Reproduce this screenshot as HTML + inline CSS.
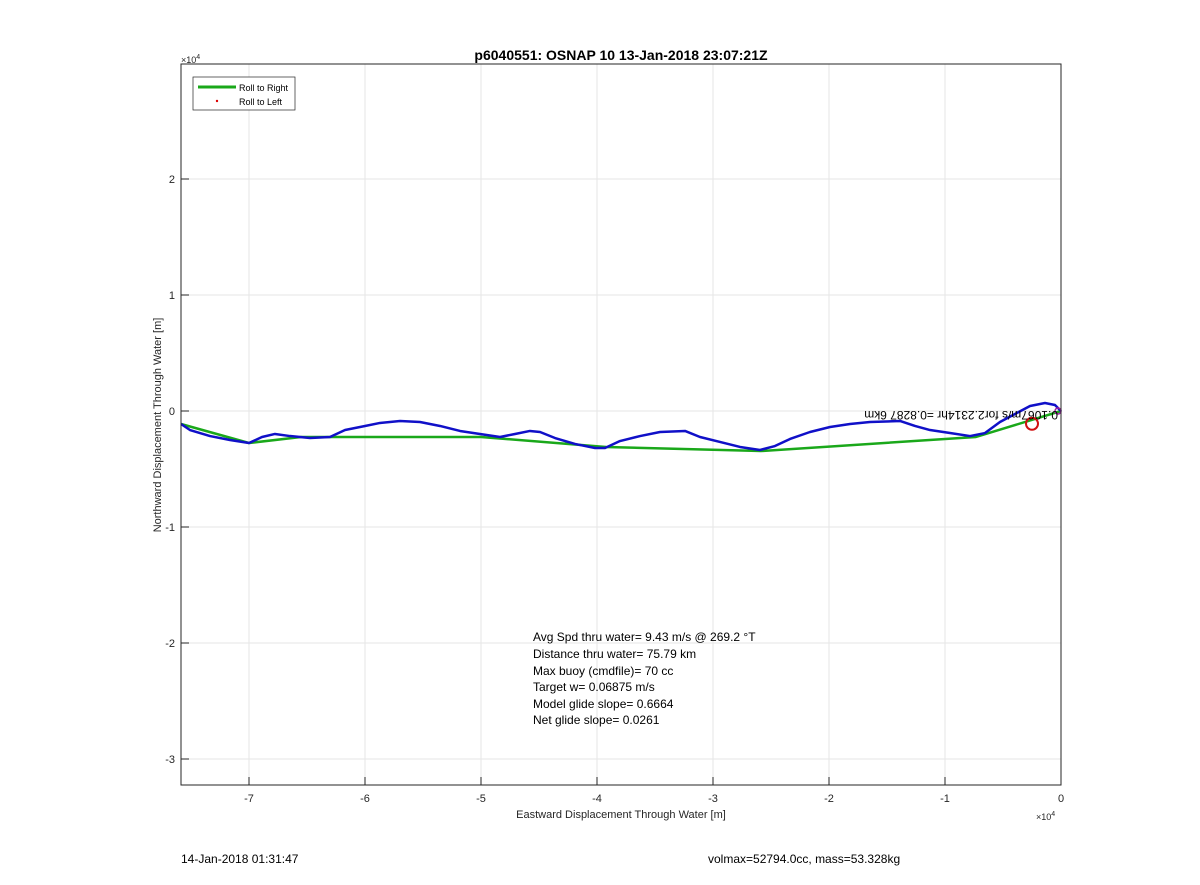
<!DOCTYPE html>
<html><head><meta charset="utf-8"><style>
body{margin:0;background:#fff;}
svg{display:block;font-family:"Liberation Sans",Arial,sans-serif;}
</style></head><body>
<svg id="chart" width="1200" height="885">
<g id="grid"></g>
<g id="ticks"></g>
<g id="series"></g>
<rect x="181" y="64" width="880" height="721" fill="none" stroke="#262626" stroke-width="1"/>
<text x="621" y="60" text-anchor="middle" font-size="14" font-weight="bold" fill="#000">p6040551: OSNAP 10 13-Jan-2018 23:07:21Z</text>
<text x="181" y="63" font-size="9" fill="#262626">×10<tspan dy="-4" font-size="7">4</tspan></text>
<text x="1036" y="820" font-size="9" fill="#262626">×10<tspan dy="-4" font-size="7">4</tspan></text>
<text x="621" y="818" text-anchor="middle" font-size="11" fill="#262626">Eastward Displacement Through Water [m]</text>
<text transform="translate(161,425) rotate(-90)" text-anchor="middle" font-size="11" fill="#262626">Northward Displacement Through Water [m]</text>
<g>
<rect x="193" y="77" width="102" height="33" fill="#fff" stroke="#262626" stroke-width="0.7"/>
<line x1="198" y1="87" x2="236" y2="87" stroke="#1aa81a" stroke-width="3"/>
<text x="239" y="91" font-size="9" fill="#000">Roll to Right</text>
<circle cx="217" cy="101" r="1.2" fill="#d00"/>
<text x="239" y="105" font-size="9" fill="#000">Roll to Left</text>
</g>
<text transform="translate(1058,411) rotate(180)" font-size="12" fill="#000">0.1067m/s for2.2314hr =0.8287 6km</text>
<g font-size="12" fill="#000">
<text x="533" y="641">Avg Spd thru water=  9.43 m/s @ 269.2 °T</text>
<text x="533" y="658">Distance thru water= 75.79 km</text>
<text x="533" y="675">Max buoy (cmdfile)= 70 cc</text>
<text x="533" y="691">Target w= 0.06875 m/s</text>
<text x="533" y="708">Model glide slope= 0.6664</text>
<text x="533" y="724">Net glide slope= 0.0261</text>
</g>
<text x="181" y="863" font-size="12" fill="#000">14-Jan-2018 01:31:47</text>
<text x="708" y="863" font-size="12" fill="#000">volmax=52794.0cc, mass=53.328kg</text>
</svg>
<script>
const xTicks=[-7,-6,-5,-4,-3,-2,-1,0];
const yTicks=[-3,-2,-1,0,1,2];
const blueX=[-7.586,-7.509,-7.336,-7.164,-7.0,-6.888,-6.776,-6.647,-6.474,-6.302,-6.172,-6.0,-5.871,-5.698,-5.526,-5.353,-5.181,-5.009,-4.836,-4.707,-4.578,-4.491,-4.362,-4.19,-4.017,-3.931,-3.802,-3.629,-3.457,-3.241,-3.112,-2.94,-2.767,-2.595,-2.466,-2.336,-2.164,-1.991,-1.819,-1.647,-1.388,-1.259,-1.129,-0.957,-0.784,-0.655,-0.526,-0.397,-0.267,-0.138,-0.052,0];
const blueY=[-0.112,-0.164,-0.216,-0.25,-0.276,-0.224,-0.198,-0.216,-0.233,-0.224,-0.164,-0.129,-0.103,-0.086,-0.095,-0.129,-0.172,-0.198,-0.224,-0.198,-0.172,-0.181,-0.233,-0.284,-0.319,-0.319,-0.259,-0.216,-0.181,-0.172,-0.224,-0.267,-0.31,-0.336,-0.302,-0.241,-0.181,-0.138,-0.112,-0.095,-0.086,-0.129,-0.164,-0.19,-0.216,-0.19,-0.095,-0.026,0.043,0.069,0.052,0];
const greenX=[-7.586,-7.0,-6.552,-5.0,-3.922,-2.586,-0.733,0];
const greenY=[-0.112,-0.276,-0.224,-0.224,-0.31,-0.345,-0.224,0];
const circleX=[-0.25];
const circleY=[-0.11];
const NS='http://www.w3.org/2000/svg';
const sx=v=>1061+v*116, sy=v=>411-v*116;
function mk(p,t,a){const e=document.createElementNS(NS,t);for(const k in a)e.setAttribute(k,a[k]);p.appendChild(e);return e;}
const grid=document.getElementById('grid'),ticks=document.getElementById('ticks'),ser=document.getElementById('series');
xTicks.forEach(v=>{const x=sx(v);
 const g=mk(grid,'line',{x1:x,x2:x,y1:64,y2:785,stroke:'#e6e6e6','stroke-width':1});
 
 
 mk(ticks,'line',{x1:x,x2:x,y1:785,y2:777,stroke:'#262626'});
 const t=mk(ticks,'text',{x:x,y:802,'text-anchor':'middle','font-size':11,fill:'#262626'});t.textContent=v;
 
 });
yTicks.forEach(v=>{const y=sy(v);
 const g=mk(grid,'line',{x1:181,x2:1061,y1:y,y2:y,stroke:'#e6e6e6','stroke-width':1});
 
 
 mk(ticks,'line',{x1:181,x2:189,y1:y,y2:y,stroke:'#262626'});
 const t=mk(ticks,'text',{x:175,y:y+4,'text-anchor':'end','font-size':11,fill:'#262626'});t.textContent=v;
 
 });
const gp=mk(ser,'polyline',{points:greenX.map((v,i)=>sx(v)+','+sy(greenY[i])).join(' '),fill:'none',stroke:'#1aa81a','stroke-width':2.5,'stroke-linejoin':'round'});


const bp=mk(ser,'polyline',{points:blueX.map((v,i)=>sx(v)+','+sy(blueY[i])).join(' '),fill:'none',stroke:'#1010c8','stroke-width':2.5,'stroke-linejoin':'round'});


circleX.forEach((v,i)=>{const c=mk(ser,'circle',{cx:sx(v),cy:sy(circleY[i]),r:6,fill:'none',stroke:'#d01010','stroke-width':2});
 
 });
const m=mk(ser,'circle',{cx:1058,cy:411,r:3,fill:'none',stroke:'#a020a0','stroke-width':1.5});


</script>
</body></html>
